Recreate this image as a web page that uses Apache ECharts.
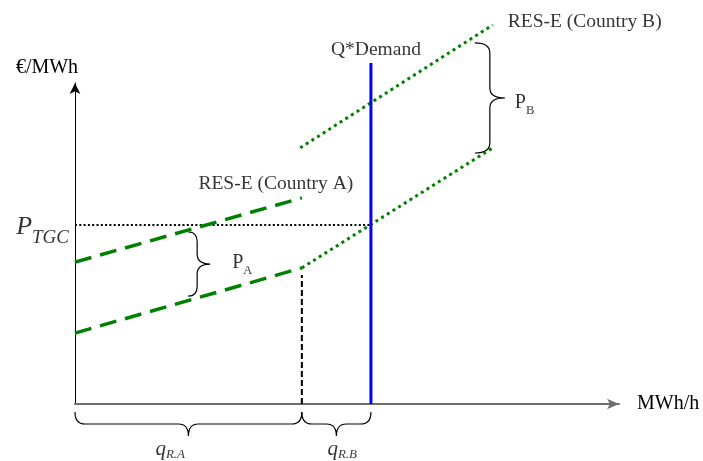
<!DOCTYPE html>
<html>
<head>
<meta charset="utf-8">
<script src="https://cdn.jsdelivr.net/npm/echarts@6/dist/echarts.min.js"></script>
<style>
  html, body { margin: 0; padding: 0; background: #fff; }
  #chart { width: 703px; height: 461px; }
</style>
</head>
<body>
<div id="chart"></div>
<script>
// Quantity (x, MWh/h) and price (y, €/MWh) in model units
const resA_upper = [[0, 44.2], [41.7, 64.2]];
const resA_lower = [[0, 22.1], [41.7, 42.4]];
const resB_lower = [[41.7, 42.4], [76.8, 79.8]];
const resB_upper = [[41.4, 79.8], [76.8, 118.1]];
const demandQ = 54.4;
const demandTop = 106.2;
const pTGC = 55.8;
const qA = 41.7;
const qAMarkTop = 40.2;

// Braces: [x0, y0, x1, y1] spans
const braceNames = ['PA', 'PB', 'qRA', 'qRB'];
const braceSpans = [
  [20.8, 53.6, 20.8, 33.6],
  [73.5, 112.5, 73.5, 78.2],
  [0, 0, 41.7, 0],
  [41.7, 0, 54.4, 0]
];

const SERIF = 'Liberation Serif';
const GREEN = '#008000';

// brace drawing style (pixels)
const braceStyle = {
  PA:  { depth: 22, curl: 9,  gap: 0 },
  PB:  { depth: 30, curl: 15, gap: 0 },
  qRA: { depth: 24, curl: 12, gap: 8 },
  qRB: { depth: 24, curl: 12, gap: 8 }
};

function braceMid(i) {
  const s = braceSpans[i];
  return [(s[0] + s[2]) / 2, (s[1] + s[3]) / 2];
}

const rich = {
  P:  { fontFamily: SERIF, fontSize: 20, color: '#000' },
  ps: { fontFamily: SERIF, fontSize: 12.5, color: '#000', padding: [15, 0, 0, 0] },
  T:  { fontFamily: SERIF, fontSize: 26, fontStyle: 'italic', color: '#000' },
  ts: { fontFamily: SERIF, fontSize: 19, fontStyle: 'italic', color: '#000', padding: [22, 0, 0, 0] },
  q:  { fontFamily: SERIF, fontSize: 21, fontStyle: 'italic', color: '#000' },
  qs: { fontFamily: SERIF, fontSize: 13, fontStyle: 'italic', color: '#000', padding: [11, 0, 0, 0] }
};

function note(point, text, align, offset) {
  return {
    value: point,
    label: { show: true, formatter: text, align: align, verticalAlign: 'middle', offset: offset }
  };
}

const notes = [
  note(resA_upper[1], 'RES-E (Country A)', 'center', [-26, -14]),
  note(resB_upper[1], 'RES-E (Country B)', 'left', [15, -3]),
  note([demandQ, demandTop], 'Q*Demand', 'center', [5, -13]),
  note([0, pTGC], '{T|P}{ts|TGC}', 'right', [-6, 2]),
  note(braceMid(0), '{P|P}{ps|A}', 'left', [44, -1]),
  note(braceMid(1), '{P|P}{ps|B}', 'left', [40, 5]),
  note(braceMid(2), '{q|q}{qs|R.A}', 'left', [-33, 45]),
  note(braceMid(3), '{q|q}{qs|R.B}', 'left', [-9, 45])
];

function lineSeries(data, color, width, dash) {
  return {
    type: 'line', data: data, symbol: 'none', clip: false, silent: true,
    lineStyle: { color: color, width: width, type: dash || 'solid', cap: 'butt' }
  };
}

function renderBrace(params, api) {
  const st = braceStyle[braceNames[params.dataIndex]];
  const a = api.coord([api.value(0), api.value(1)]);
  const b = api.coord([api.value(2), api.value(3)]);
  let ux = b[0] - a[0], uy = b[1] - a[1];
  const len = Math.hypot(ux, uy);
  ux /= len; uy /= len;
  // vertical braces open to the right, horizontal ones open downward
  const vertical = Math.abs(uy) > Math.abs(ux);
  const nx = vertical ? 1 : 0, ny = vertical ? 0 : 1;
  const s = [a[0] + nx * st.gap, a[1] + ny * st.gap];
  const e = [b[0] + nx * st.gap, b[1] + ny * st.gap];
  const m = [(s[0] + e[0]) / 2, (s[1] + e[1]) / 2];
  const h = st.curl, D = st.depth, r = Math.min(10, len / 5);
  const P = (o, along, out) => (o[0] + ux * along + nx * out).toFixed(2) + ' ' + (o[1] + uy * along + ny * out).toFixed(2);
  const d = 'M' + P(s, 0, 0) +
    ' Q' + P(s, 0, h) + ' ' + P(s, r, h) +
    ' L' + P(m, -r, h) +
    ' Q' + P(m, 0, h) + ' ' + P(m, 0, D) +
    ' Q' + P(m, 0, h) + ' ' + P(m, r, h) +
    ' L' + P(e, -r, h) +
    ' Q' + P(e, 0, h) + ' ' + P(e, 0, 0);
  return {
    type: 'path',
    shape: { pathData: d },
    style: { stroke: '#000', fill: null, lineWidth: 1.2 }
  };
}

const chart = echarts.init(document.getElementById('chart'), null, { renderer: 'canvas' });
chart.setOption({
  animation: false,
  backgroundColor: '#fff',
  grid: { left: 75, top: 83, width: 544, height: 321, outerBoundsMode: 'none', containLabel: false },
  xAxis: {
    type: 'value', min: 0, max: 100,
    name: 'MWh/h', nameLocation: 'end', nameGap: 18,
    nameTextStyle: { fontFamily: SERIF, fontSize: 20, color: '#000' },
    axisLine: { show: true, onZero: false, symbol: ['none', 'arrow'], symbolSize: [8, 12],
      lineStyle: { color: '#6e6e6e', width: 2 } },
    axisTick: { show: false }, axisLabel: { show: false }, splitLine: { show: false }
  },
  yAxis: {
    type: 'value', min: 0, max: 100,
    name: '€/MWh', nameLocation: 'end', nameGap: 5,
    nameTextStyle: { fontFamily: SERIF, fontSize: 20, color: '#000', align: 'center', padding: [0, 56, 0, 0] },
    axisLine: { show: true, onZero: false, symbol: ['none', 'arrow'], symbolSize: [8, 11],
      lineStyle: { color: '#000', width: 1 } },
    axisTick: { show: false }, axisLabel: { show: false }, splitLine: { show: false }
  },
  series: [
    lineSeries([[0, pTGC], [demandQ, pTGC]], '#000', 2, [2, 2.3]),
    lineSeries([[qA, 0], [qA, qAMarkTop]], '#000', 2, [6, 3]),
    lineSeries(resA_upper, GREEN, 3.5, [17, 9]),
    lineSeries(resA_lower, GREEN, 3.5, [17, 9]),
    lineSeries(resB_lower, GREEN, 3, [3, 3.7]),
    lineSeries(resB_upper, GREEN, 3, [3, 3.7]),
    lineSeries([[demandQ, 0], [demandQ, demandTop]], '#0000ff', 3),
    {
      type: 'custom', clip: false, silent: true,
      data: braceSpans,
      renderItem: renderBrace
    },
    {
      type: 'scatter', clip: false, silent: true,
      symbolSize: 0,
      data: notes,
      label: {
        show: true, position: 'inside',
        fontFamily: SERIF, fontSize: 19.5, color: '#000',
        rich: rich
      }
    }
  ]
});
</script>
</body>
</html>
